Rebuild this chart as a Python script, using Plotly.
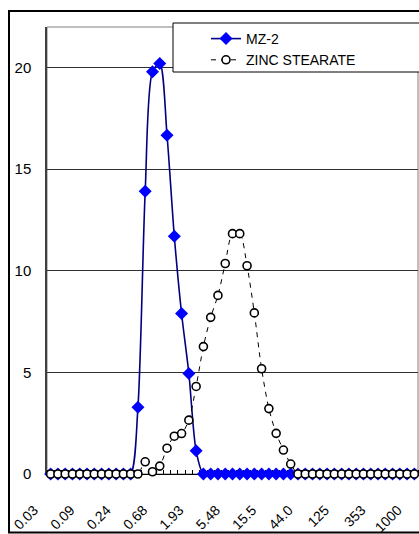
import plotly.graph_objects as go

# ---- data ----
tick_labels = ["0.03", "0.09", "0.24", "0.68", "1.93", "5.48", "15.5", "44.0", "125", "353", "1000"]
mz2 = [0, 0, 0, 0, 0, 0, 0, 0, 0, 0, 0, 0,
       3.28, 13.92, 19.8, 20.2, 16.67, 11.7, 7.9, 4.95, 1.14,
       0, 0, 0, 0, 0, 0, 0, 0, 0, 0, 0, 0, 0, 0, 0, 0, 0, 0, 0, 0,
       0, 0, 0, 0, 0, 0, 0, 0, 0, 0]
zinc = [0, 0, 0, 0, 0, 0, 0, 0, 0, 0, 0, 0, 0,
        0.6, 0.11, 0.39, 1.27, 1.86, 1.99, 2.65, 4.31, 6.27, 7.71, 8.79, 10.36,
        11.83, 11.83, 10.25, 7.93, 5.18, 3.22, 2.0, 1.18, 0.49,
        0, 0, 0, 0, 0, 0, 0, 0, 0, 0, 0, 0, 0, 0, 0, 0, 0]
n_cat = len(mz2)
x_idx = list(range(n_cat))
tick_step = 5
y_ticks = [0, 5, 10, 15, 20]

# ---- layout constants ----
W, H = 419, 534
L, R, T, B = 47, 1, 27, 60
PW, PH = W - L - R, H - T - B

def px(x):
    return (x - L) / PW

def py(y):
    return (H - B - y) / PH

FONT = "Liberation Sans, Arial, sans-serif"
PAD = "\u00a0" * 6  # trailing pad so rotated labels sit left of category centre

fig = go.Figure()
fig.add_trace(go.Scatter(
    x=x_idx, y=mz2, name="MZ-2", mode="lines+markers",
    line=dict(color="#000080", width=1.6, shape="spline", smoothing=0.8),
    marker=dict(symbol="diamond", size=10, color="#0000FF"),
    cliponaxis=False,
))
fig.add_trace(go.Scatter(
    x=x_idx, y=zinc, name="ZINC STEARATE", mode="lines+markers",
    line=dict(color="black", width=1, dash="5px,5px", shape="spline", smoothing=0.8),
    marker=dict(symbol="circle", size=8, color="white", line=dict(color="black", width=1.6)),
    cliponaxis=False,
))

shapes = [
    # outer chart border
    dict(type="rect", xref="paper", yref="paper", x0=px(9), x1=px(440), y0=py(532.5), y1=py(11),
         line=dict(color="black", width=2), layer="below"),
    # plot area border
    dict(type="rect", xref="paper", yref="paper", x0=0, x1=px(418), y0=0, y1=1,
         line=dict(color="#808080", width=1), layer="below"),
    # legend box
    dict(type="rect", xref="paper", yref="paper", x0=px(173), x1=px(440), y0=py(72), y1=py(23),
         line=dict(color="black", width=1), fillcolor="white", layer="above"),
]

fig.update_layout(
    width=W, height=H,
    margin=dict(l=L, r=R, t=T, b=B, autoexpand=False),
    paper_bgcolor="white", plot_bgcolor="white",
    font=dict(family=FONT, color="black", size=14),
    shapes=shapes,
    showlegend=True,
    legend=dict(x=px(206), xanchor="left", y=py(23), yanchor="top",
                bgcolor="rgba(0,0,0,0)", borderwidth=0,
                font=dict(size=14, family=FONT), tracegroupgap=0),
    xaxis=dict(
        range=[-0.5, n_cat - 0.5],
        tickmode="array",
        tickvals=x_idx[::tick_step],
        ticktext=[t + PAD for t in tick_labels],
        tickangle=-45,
        ticks="",
        ticklabelstandoff=5,
        ticklabeloverflow="allow",
        tickfont=dict(size=14),
        showline=True, linecolor="black", linewidth=1,
        showgrid=False, zeroline=False,
        automargin=False,
        layer="below traces",
        minor=dict(tickmode="linear", tick0=0.5, dtick=1, ticks="inside",
                   ticklen=4, tickcolor="black", showgrid=False),
    ),
    yaxis=dict(
        range=[0, 22],
        tickmode="array", tickvals=y_ticks,
        ticks="outside", ticklen=11, tickcolor="rgba(0,0,0,0)",
        tickfont=dict(size=15),
        showgrid=True, gridcolor="#303030", gridwidth=1,
        showline=True, linecolor="#404040", linewidth=1.5,
        zeroline=False,
        automargin=False,
        layer="below traces",
    ),
)

fig.write_html("out.html", config={"displayModeBar": False},
               post_script="document.body.style.margin='0';")
